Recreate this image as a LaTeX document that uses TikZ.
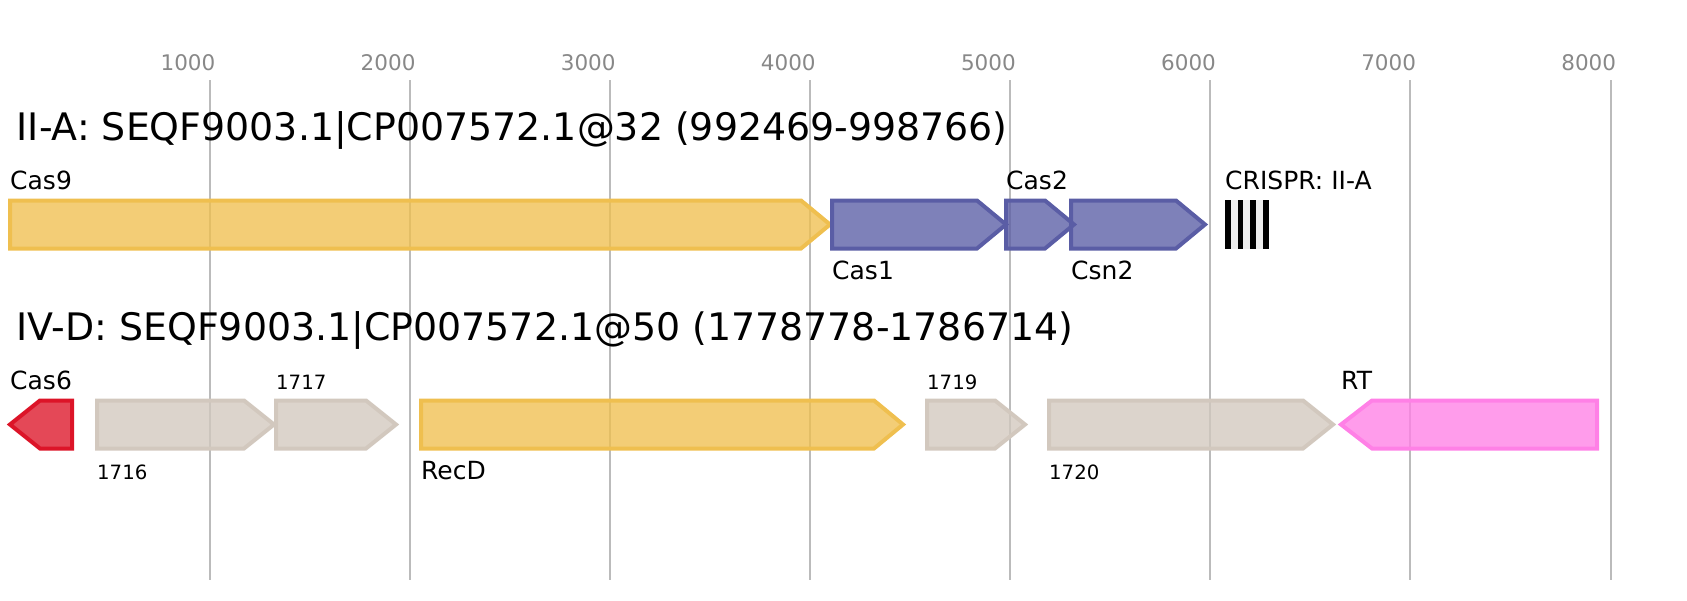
\documentclass[tikz,border=0pt]{standalone}
\usepackage{fontspec}
\setmainfont{DejaVu Sans}
\usepackage{tikz}
\usepackage{xcolor}
\usetikzlibrary{positioning}

\definecolor{grid-c}{HTML}{BBBBBB}
\definecolor{tick-c}{HTML}{888888}
\definecolor{gold-c}{HTML}{EFBF4F}
\definecolor{blue-c}{HTML}{5A5DA5}
\definecolor{red-c}{HTML}{DC1428}
\definecolor{gray-c}{HTML}{D2C8BE}
\definecolor{pink-c}{HTML}{FF80E6}
\definecolor{spacer-c}{HTML}{EEEEEE}

\begin{document}
\begin{tikzpicture}
[
x=1pt, y=-1pt,
grid-a/.style={draw=grid-c, line width=2pt},
tick-a/.style={text=tick-c, font=\fontsize{21.5}{24}\selectfont, anchor=base, inner sep=0pt},
title-a/.style={font=\fontsize{37.9}{44}\selectfont, anchor=base west, inner sep=0pt},
text-a/.style={black, font=\fontsize{25}{30}\selectfont, inner sep=0pt, text height=18pt, text depth=0pt},
text-b/.style={black, font=\fontsize{19.7}{24}\selectfont, inner sep=0pt, text height=14.4pt, text depth=0pt},
gene-a/.style={line width=4pt, line join=miter, fill opacity=0.78},
gene-gold/.style={gene-a, draw=gold-c, fill=gold-c},
gene-blue/.style={gene-a, draw=blue-c, fill=blue-c},
gene-red/.style={gene-a, draw=red-c, fill=red-c},
gene-gray/.style={gene-a, draw=gray-c, fill=gray-c},
gene-pink/.style={gene-a, draw=pink-c, fill=pink-c},
crispr-a/.style={fill=black},
spacer-a/.style={fill=spacer-c}
]
\useasboundingbox (0,0) rectangle (1687,600);

% scale
\coordinate (g-1) at (209.8,80);
\coordinate (g-2) at (409.9,80);
\coordinate (g-3) at (610.0,80);
\coordinate (g-4) at (810.1,80);
\coordinate (g-5) at (1010.2,80);
\coordinate (g-6) at (1210.3,80);
\coordinate (g-7) at (1410.4,80);
\coordinate (g-8) at (1610.5,80);
\draw [grid-a] (g-1) -- ++(0,500);
\draw [grid-a] (g-2) -- ++(0,500);
\draw [grid-a] (g-3) -- ++(0,500);
\draw [grid-a] (g-4) -- ++(0,500);
\draw [grid-a] (g-5) -- ++(0,500);
\draw [grid-a] (g-6) -- ++(0,500);
\draw [grid-a] (g-7) -- ++(0,500);
\draw [grid-a] (g-8) -- ++(0,500);
\node (tick-1) [tick-a] at (188.0,70.5)  {1000};
\node (tick-2) [tick-a] at (388.1,70.5)  {2000};
\node (tick-3) [tick-a] at (588.2,70.5)  {3000};
\node (tick-4) [tick-a] at (788.3,70.5)  {4000};
\node (tick-5) [tick-a] at (988.4,70.5)  {5000};
\node (tick-6) [tick-a] at (1188.5,70.5) {6000};
\node (tick-7) [tick-a] at (1388.6,70.5) {7000};
\node (tick-8) [tick-a] at (1588.7,70.5) {8000};

% II-A locus
\node (title-1) [title-a] at (16.5,140) {II-A: SEQF9003.1|CP007572.1@32 (992469-998766)};
\coordinate (cas9) at (10,200.5);
\coordinate (cas1) at (832,200.5);
\coordinate (cas2) at (1006,200.5);
\coordinate (csn2) at (1071,200.5);
\draw [gene-gold] (cas9) -- ++(791,0) -- ++(29,24) -- ++(-29,24) -- ++(-791,0) -- cycle;
\draw [gene-blue] (cas1) -- ++(145,0) -- ++(29,24) -- ++(-29,24) -- ++(-145,0) -- cycle;
\draw [gene-blue] (cas2) -- ++(39,0) -- ++(29,24) -- ++(-29,24) -- ++(-39,0) -- cycle;
\draw [gene-blue] (csn2) -- ++(105,0) -- ++(29,24) -- ++(-29,24) -- ++(-105,0) -- cycle;
\coordinate (crispr-1) at (1225.0,200);
\coordinate (crispr-2) at (1237.7,200);
\coordinate (crispr-3) at (1250.4,200);
\coordinate (crispr-4) at (1263.1,200);
\fill [spacer-a] (crispr-1) rectangle ++(43.8,49);
\fill [crispr-a] (crispr-1) rectangle ++(5.7,49);
\fill [crispr-a] (crispr-2) rectangle ++(5.7,49);
\fill [crispr-a] (crispr-3) rectangle ++(5.7,49);
\fill [crispr-a] (crispr-4) rectangle ++(5.7,49);
\node (cas9-lb)   [text-a, above right = 10.5pt and 0pt of cas9]     {Cas9};
\node (cas1-lb)   [text-a, below right = 60.5pt and 0pt of cas1]     {Cas1};
\node (cas2-lb)   [text-a, above right = 10.5pt and 0pt of cas2]     {Cas2};
\node (csn2-lb)   [text-a, below right = 60.5pt and 0pt of csn2]     {Csn2};
\node (crispr-lb) [text-a, above right = 10pt and 0pt of crispr-1]   {CRISPR: II-A};

% IV-D locus
\node (title-2) [title-a] at (16.5,340) {IV-D: SEQF9003.1|CP007572.1@50 (1778778-1786714)};
\coordinate (cas6) at (10,424.5);
\coordinate (g1716) at (97,400.5);
\coordinate (g1717) at (276,400.5);
\coordinate (recd) at (421,400.5);
\coordinate (g1719) at (927,400.5);
\coordinate (g1720) at (1049,400.5);
\coordinate (rt) at (1341,424.5);
\draw [gene-red]  (cas6) -- ++(30,-24) -- ++(32,0) -- ++(0,48) -- ++(-32,0) -- cycle;
\draw [gene-gray] (g1716) -- ++(147,0) -- ++(30,24) -- ++(-30,24) -- ++(-147,0) -- cycle;
\draw [gene-gray] (g1717) -- ++(90,0) -- ++(30,24) -- ++(-30,24) -- ++(-90,0) -- cycle;
\draw [gene-gold] (recd) -- ++(453,0) -- ++(29,24) -- ++(-29,24) -- ++(-453,0) -- cycle;
\draw [gene-gray] (g1719) -- ++(68,0) -- ++(30,24) -- ++(-30,24) -- ++(-68,0) -- cycle;
\draw [gene-gray] (g1720) -- ++(254,0) -- ++(30,24) -- ++(-30,24) -- ++(-254,0) -- cycle;
\draw [gene-pink] (rt) -- ++(31,-24) -- ++(225,0) -- ++(0,48) -- ++(-225,0) -- cycle;
\node (cas6-lb)  [text-a, above right = 34.5pt and 0pt of cas6]  {Cas6};
\node (g1716-lb) [text-b, below right = 64.4pt and 0pt of g1716] {1716};
\node (g1717-lb) [text-b, above right = 11.2pt and 0pt of g1717] {1717};
\node (recd-lb)  [text-a, below right = 60.5pt and 0pt of recd]  {RecD};
\node (g1719-lb) [text-b, above right = 11.2pt and 0pt of g1719] {1719};
\node (g1720-lb) [text-b, below right = 64.4pt and 0pt of g1720] {1720};
\node (rt-lb)    [text-a, above right = 34.5pt and 0pt of rt]    {RT};
\end{tikzpicture}
\end{document}
